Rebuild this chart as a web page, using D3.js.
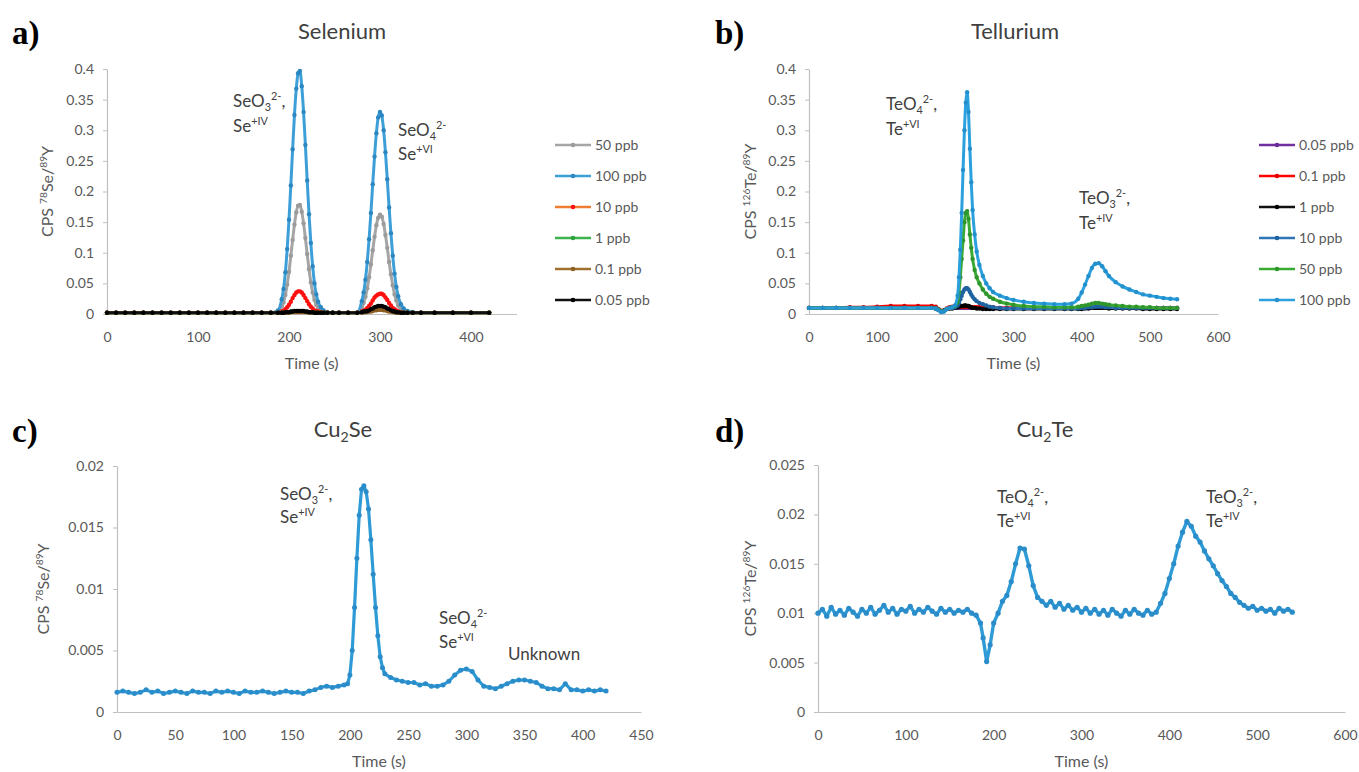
<!DOCTYPE html>
<html>
<head>
<meta charset="utf-8">
<script src="https://cdnjs.cloudflare.com/ajax/libs/d3/7.8.5/d3.min.js"></script>
<style>
  body { margin: 0; background: #fff; }
</style>
</head>
<body>
<svg id="chart" width="1359" height="772" font-family="Lato, 'Open Sans', sans-serif"></svg>
<script>
// ---- panel a: Selenium standards ----
const aTime = [0,10,20,30,40,50,60,70,80,90,100,110,120,130,140,150,160,170,180,188,
  192,194,196,198,200,202,204,206,208,210,212,214,216,218,220,222,224,226,228,230,
  232,235,238,242,248,255,265,275,280,282,284,286,288,290,292,294,296,298,300,302,
  304,306,308,310,312,314,316,318,320,323,326,330,336,345,360,380,400,420];
const seLabels = ['50 ppb', '100 ppb', '10 ppb', '1 ppb', '0.1 ppb', '0.05 ppb'];
const se50 = [0.002,0.002,0.002,0.002,0.002,0.002,0.002,0.002,0.002,0.002,
  0.002,0.002,0.002,0.002,0.002,0.002,0.002,0.002,0.002,0.004,
  0.012,0.019,0.031,0.048,0.069,0.095,0.121,0.146,0.166,0.177,
  0.178,0.167,0.148,0.124,0.098,0.073,0.052,0.035,0.023,0.015,
  0.010,0.006,0.004,0.003,0.002,0.002,0.002,0.002,0.011,0.018,
  0.028,0.042,0.060,0.081,0.104,0.126,0.145,0.157,0.162,0.159,
  0.147,0.129,0.108,0.085,0.065,0.047,0.032,0.022,0.014,0.008,
  0.005,0.003,0.002,0.002,0.002,0.002,0.002,0.002];
const se100 = [0.002,0.002,0.002,0.002,0.002,0.002,0.002,0.002,0.002,0.002,
  0.002,0.002,0.002,0.002,0.002,0.002,0.002,0.002,0.002,0.006,
  0.024,0.041,0.068,0.106,0.154,0.210,0.269,0.325,0.368,0.393,
  0.397,0.372,0.330,0.276,0.218,0.163,0.116,0.078,0.050,0.032,
  0.020,0.011,0.006,0.003,0.002,0.002,0.002,0.002,0.021,0.035,
  0.056,0.085,0.122,0.165,0.212,0.257,0.295,0.321,0.330,0.324,
  0.300,0.264,0.220,0.174,0.132,0.095,0.066,0.044,0.029,0.016,
  0.009,0.005,0.003,0.002,0.002,0.002,0.002,0.002];
const se10 = [0.002,0.002,0.002,0.002,0.002,0.002,0.002,0.002,0.002,0.002,
  0.002,0.002,0.002,0.002,0.002,0.002,0.002,0.002,0.002,0.002,
  0.004,0.005,0.008,0.011,0.015,0.020,0.026,0.031,0.035,0.037,
  0.037,0.035,0.031,0.026,0.021,0.016,0.012,0.009,0.006,0.005,
  0.004,0.003,0.002,0.002,0.002,0.002,0.002,0.002,0.004,0.005,
  0.007,0.010,0.013,0.017,0.022,0.027,0.030,0.032,0.033,0.033,
  0.031,0.027,0.023,0.018,0.014,0.010,0.008,0.006,0.004,0.003,
  0.002,0.002,0.002,0.002,0.002,0.002,0.002,0.002];
const se1 = [0.002,0.002,0.002,0.002,0.002,0.002,0.002,0.002,0.002,0.002,
  0.002,0.002,0.002,0.002,0.002,0.002,0.002,0.002,0.002,0.002,
  0.002,0.002,0.002,0.003,0.003,0.003,0.004,0.004,0.004,0.004,
  0.004,0.004,0.004,0.003,0.003,0.003,0.002,0.002,0.002,0.002,
  0.002,0.002,0.002,0.002,0.002,0.002,0.002,0.002,0.003,0.003,
  0.004,0.004,0.005,0.006,0.007,0.008,0.009,0.010,0.010,0.010,
  0.009,0.008,0.007,0.006,0.005,0.004,0.003,0.003,0.002,0.002,
  0.002,0.002,0.002,0.002,0.002,0.002,0.002,0.002];
const se01 = [0.002,0.002,0.002,0.002,0.002,0.002,0.002,0.002,0.002,0.002,
  0.002,0.002,0.002,0.002,0.002,0.002,0.002,0.002,0.002,0.002,
  0.002,0.002,0.002,0.002,0.002,0.003,0.003,0.003,0.003,0.003,
  0.003,0.003,0.003,0.003,0.003,0.002,0.002,0.002,0.002,0.002,
  0.002,0.002,0.002,0.002,0.002,0.002,0.002,0.002,0.002,0.003,
  0.003,0.003,0.004,0.004,0.005,0.006,0.006,0.007,0.007,0.007,
  0.006,0.006,0.005,0.004,0.004,0.003,0.003,0.002,0.002,0.002,
  0.002,0.002,0.002,0.002,0.002,0.002,0.002,0.002];
const se005 = [0.002,0.002,0.002,0.002,0.002,0.002,0.002,0.002,0.002,0.002,
  0.002,0.002,0.002,0.002,0.002,0.002,0.002,0.002,0.002,0.002,
  0.002,0.002,0.003,0.003,0.003,0.004,0.004,0.005,0.005,0.005,
  0.005,0.005,0.005,0.004,0.004,0.003,0.003,0.003,0.002,0.002,
  0.002,0.002,0.002,0.002,0.002,0.002,0.002,0.002,0.003,0.004,
  0.004,0.005,0.006,0.008,0.009,0.011,0.012,0.013,0.013,0.013,
  0.012,0.011,0.009,0.008,0.006,0.005,0.004,0.003,0.003,0.002,
  0.002,0.002,0.002,0.002,0.002,0.002,0.002,0.002];

// ---- panel b: Tellurium standards ----
const bTime = [0,20,40,60,80,100,120,140,160,180,
  186,190,194,198,202,206,210,214,218,220,
  222,224,226,228,230,232,234,236,238,240,
  243,246,250,255,260,265,270,280,290,300,
  315,330,345,360,375,385,395,400,405,410,
  415,420,425,430,435,440,450,460,470,480,
  490,500,510,520,530,540];
const teLabels = ['0.05 ppb', '0.1 ppb', '1 ppb', '10 ppb', '50 ppb', '100 ppb'];
const te005 = [0.010,0.010,0.010,0.010,0.010,0.010,0.010,0.010,0.010,0.010,
  0.010,0.007,0.004,0.005,0.008,0.010,0.010,0.010,0.010,0.010,
  0.010,0.010,0.010,0.010,0.010,0.010,0.010,0.010,0.010,0.010,
  0.010,0.010,0.010,0.010,0.010,0.010,0.010,0.010,0.010,0.010,
  0.010,0.010,0.010,0.010,0.010,0.010,0.010,0.010,0.010,0.010,
  0.010,0.010,0.010,0.010,0.010,0.010,0.010,0.010,0.010,0.010,
  0.010,0.010,0.010,0.010,0.010,0.010];
const te01 = [0.010,0.010,0.010,0.011,0.011,0.012,0.013,0.013,0.013,0.013,
  0.012,0.008,0.005,0.006,0.009,0.011,0.012,0.012,0.012,0.012,
  0.012,0.012,0.012,0.012,0.012,0.012,0.012,0.012,0.011,0.011,
  0.011,0.011,0.011,0.011,0.011,0.011,0.011,0.010,0.010,0.010,
  0.010,0.010,0.010,0.010,0.010,0.010,0.010,0.010,0.010,0.010,
  0.010,0.010,0.010,0.010,0.010,0.010,0.010,0.010,0.010,0.010,
  0.010,0.010,0.010,0.010,0.010,0.010];
const te1 = [0.010,0.010,0.010,0.010,0.010,0.010,0.010,0.010,0.010,0.010,
  0.009,0.007,0.005,0.006,0.008,0.009,0.009,0.010,0.011,0.012,
  0.013,0.013,0.013,0.014,0.014,0.013,0.013,0.012,0.011,0.010,
  0.010,0.009,0.009,0.008,0.008,0.008,0.008,0.008,0.008,0.008,
  0.008,0.008,0.008,0.008,0.008,0.008,0.008,0.008,0.009,0.009,
  0.010,0.010,0.010,0.010,0.010,0.009,0.009,0.009,0.009,0.009,
  0.008,0.008,0.008,0.008,0.008,0.008];
const te10 = [0.010,0.010,0.010,0.010,0.010,0.010,0.010,0.010,0.010,0.010,
  0.009,0.007,0.004,0.005,0.008,0.010,0.010,0.011,0.014,0.018,
  0.024,0.030,0.036,0.040,0.042,0.042,0.040,0.036,0.032,0.028,
  0.024,0.021,0.018,0.016,0.014,0.012,0.011,0.010,0.009,0.009,
  0.009,0.009,0.009,0.009,0.009,0.009,0.009,0.010,0.010,0.011,
  0.011,0.012,0.012,0.012,0.011,0.011,0.010,0.010,0.010,0.010,
  0.010,0.010,0.010,0.010,0.010,0.010];
const te50 = [0.010,0.010,0.010,0.010,0.010,0.010,0.010,0.010,0.010,0.010,
  0.009,0.007,0.004,0.005,0.008,0.010,0.011,0.013,0.020,0.035,
  0.060,0.090,0.120,0.150,0.165,0.168,0.155,0.130,0.108,0.090,
  0.072,0.060,0.050,0.040,0.033,0.028,0.025,0.020,0.017,0.015,
  0.013,0.012,0.012,0.011,0.011,0.011,0.012,0.013,0.014,0.015,
  0.017,0.018,0.018,0.017,0.016,0.015,0.014,0.013,0.012,0.012,
  0.011,0.011,0.010,0.010,0.010,0.010];
const te100 = [0.010,0.010,0.010,0.010,0.010,0.010,0.010,0.010,0.010,0.010,
  0.009,0.006,0.003,0.004,0.008,0.010,0.011,0.014,0.030,0.060,
  0.105,0.165,0.235,0.300,0.345,0.362,0.330,0.270,0.215,0.170,
  0.130,0.102,0.080,0.062,0.050,0.042,0.036,0.030,0.026,0.023,
  0.020,0.018,0.017,0.016,0.016,0.017,0.025,0.035,0.048,0.062,
  0.075,0.082,0.083,0.078,0.070,0.062,0.052,0.045,0.040,0.036,
  0.032,0.030,0.028,0.026,0.025,0.024];

// ---- panel c: Cu2Se ----
const cTime = [0,5,10,15,20,25,30,35,40,45,
  50,55,60,65,70,75,80,85,90,95,
  100,105,110,115,120,125,130,135,140,145,
  150,155,160,165,170,175,180,185,190,195,
  198,200,202,204,206,208,210,212,214,216,
  218,220,222,224,226,228,230,235,240,245,
  250,255,260,265,270,275,280,285,290,295,
  300,305,310,315,320,325,330,335,340,345,
  350,355,360,365,370,375,380,385,390,395,
  400,405,410,415,420];
const cuSe = [0.0016,0.0017,0.0016,0.0015,0.0016,0.0018,0.0016,0.0017,0.0015,0.0016,
  0.0017,0.0016,0.0015,0.0017,0.0016,0.0016,0.0015,0.0017,0.0016,0.0017,
  0.0016,0.0015,0.0017,0.0016,0.0016,0.0017,0.0016,0.0015,0.0016,0.0017,
  0.0016,0.0016,0.0015,0.0017,0.0018,0.0020,0.0021,0.0020,0.0021,0.0022,
  0.0023,0.0030,0.0050,0.0085,0.0125,0.0160,0.0181,0.0184,0.0179,0.0165,
  0.0140,0.0112,0.0085,0.0062,0.0045,0.0036,0.0031,0.0028,0.0026,0.0025,
  0.0024,0.0024,0.0022,0.0023,0.0021,0.0021,0.0022,0.0025,0.0030,0.0034,
  0.0035,0.0033,0.0026,0.0021,0.0020,0.0019,0.0021,0.0023,0.0025,0.0026,
  0.0026,0.0025,0.0024,0.0021,0.0019,0.0019,0.0018,0.0023,0.0018,0.0018,
  0.0017,0.0018,0.0017,0.0018,0.0017];

// ---- panel d: Cu2Te ----
const dTime = [0,5,10,15,20,25,30,35,40,45,
  50,55,60,65,70,75,80,85,90,95,
  100,105,110,115,120,125,130,135,140,145,
  150,155,160,165,170,175,180,185,188,192,
  196,200,205,210,215,220,225,230,235,240,
  245,250,255,260,265,270,275,280,285,290,
  295,300,305,310,315,320,325,330,335,340,
  345,350,355,360,365,370,375,380,385,390,
  395,400,405,410,415,420,425,430,435,440,
  445,450,455,460,465,470,475,480,485,490,
  495,500,505,510,515,520,525,530,535,540];
const cuTe = [0.0100,0.0104,0.0097,0.0106,0.0099,0.0103,0.0098,0.0105,0.0101,0.0097,
  0.0104,0.0100,0.0106,0.0099,0.0103,0.0108,0.0101,0.0105,0.0099,0.0104,
  0.0102,0.0107,0.0100,0.0104,0.0101,0.0106,0.0102,0.0099,0.0105,0.0101,
  0.0104,0.0100,0.0103,0.0101,0.0104,0.0100,0.0098,0.0090,0.0075,0.0051,
  0.0068,0.0090,0.0100,0.0112,0.0118,0.0132,0.0150,0.0166,0.0165,0.0148,
  0.0128,0.0116,0.0112,0.0108,0.0112,0.0106,0.0110,0.0104,0.0108,0.0103,
  0.0106,0.0101,0.0105,0.0100,0.0104,0.0099,0.0103,0.0098,0.0104,0.0100,
  0.0097,0.0103,0.0099,0.0104,0.0100,0.0098,0.0103,0.0099,0.0101,0.0110,
  0.0120,0.0135,0.0150,0.0168,0.0182,0.0193,0.0188,0.0178,0.0172,0.0163,
  0.0155,0.0148,0.0140,0.0133,0.0127,0.0120,0.0116,0.0111,0.0108,0.0105,
  0.0107,0.0103,0.0105,0.0102,0.0104,0.0100,0.0105,0.0102,0.0104,0.0101];

// tick labels
const xTicks450 = [0, 100, 200, 300, 400];
const xTicks600 = [0, 100, 200, 300, 400, 500, 600];
const xTicksC = [0, 50, 100, 150, 200, 250, 300, 350, 400, 450];
const yTicksStd = [0, 0.05, 0.1, 0.15, 0.2, 0.25, 0.3, 0.35, 0.4];
const yTicksC = [0, 0.005, 0.01, 0.015, 0.02];
const yTicksD = [0, 0.005, 0.01, 0.015, 0.02, 0.025];

const svg = d3.select('#chart');
svg.append('rect').attr('width', 1359).attr('height', 772).attr('fill', '#fff');

// text with sub/superscripts: parts = [[str, 'sub'|'sup'|null], ...]
function rich(sel, x, y, parts, size, opts) {
  opts = opts || {};
  const t = sel.append('text').attr('x', x).attr('y', y)
    .attr('font-size', size).attr('fill', opts.fill || '#404040')
    .attr('text-anchor', opts.anchor || 'start');
  if (opts.rotate) t.attr('transform', `rotate(-90,${x},${y})`);
  let cur = 0;
  parts.forEach(([str, kind]) => {
    const off = kind === 'sup' ? -size * 0.4 : kind === 'sub' ? size * 0.22 : 0;
    t.append('tspan').attr('dy', off - cur)
      .attr('font-size', kind ? size * 0.64 : size).text(str);
    cur = off;
  });
  return t;
}

function drawPanel(p) {
  const g = svg.append('g');
  const x = d3.scaleLinear().domain([0, p.xMax]).range([p.left, p.right]);
  const y = d3.scaleLinear().domain([0, p.yMax]).range([p.bottom, p.top]);

  const styleAxis = ax => {
    ax.attr('font-family', null);
    ax.select('.domain').attr('stroke', '#bfbfbf').attr('stroke-width', 1.2);
    ax.selectAll('.tick line').attr('stroke', '#bfbfbf');
    ax.selectAll('text').attr('fill', '#595959').attr('font-size', 14);
  };
  g.append('g').attr('transform', `translate(0,${p.bottom})`)
    .call(d3.axisBottom(x).tickValues(p.xTicks).tickSize(0).tickSizeOuter(0)
      .tickPadding(18).tickFormat(d => String(d)))
    .call(styleAxis);
  g.append('g').attr('transform', `translate(${p.left},0)`)
    .call(d3.axisLeft(y).tickValues(p.yTicks).tickSize(4).tickSizeOuter(0)
      .tickPadding(9).tickFormat(d => String(d)))
    .call(styleAxis);

  const line = d3.line()
    .x((d, i) => x(p.time[i]))
    .y(d => y(d))
    .curve(p.curve);

  p.series.forEach(s => {
    g.append('path').datum(s.values)
      .attr('d', line).attr('fill', 'none')
      .attr('stroke', s.color).attr('stroke-width', p.lw)
      .attr('stroke-linejoin', 'round');
    g.append('g').selectAll('circle').data(s.values).join('circle')
      .attr('cx', (d, i) => x(p.time[i]))
      .attr('cy', d => y(d))
      .attr('r', p.mr)
      .attr('fill', s.mark);
  });

  // axis titles
  g.append('text').attr('x', (p.left + p.right) / 2).attr('y', p.bottom + 55)
    .attr('text-anchor', 'middle').attr('font-size', 16).attr('fill', '#595959')
    .text('Time (s)');
  rich(g, p.yTitleX, (p.top + p.bottom) / 2, p.yTitle, 16,
    { anchor: 'middle', rotate: true, fill: '#595959' });

  // chart title and panel letter
  rich(g, p.titleX, p.titleY, p.title, 22, { anchor: 'middle' });
  g.append('text').attr('x', p.letterX).attr('y', p.titleY + 5)
    .attr('font-family', '"Liberation Serif", "DejaVu Serif", serif')
    .attr('font-weight', 'bold').attr('font-size', 33).attr('fill', '#000')
    .text(p.letter);

  // peak annotations
  p.notes.forEach(n => rich(g, n.x, n.y, n.parts, 17));

  // legend
  if (p.legend) {
    p.series.forEach((s, i) => {
      const ly = p.legend.y[i];
      g.append('line').attr('x1', p.legend.x).attr('x2', p.legend.x + 36)
        .attr('y1', ly).attr('y2', ly).attr('stroke', s.color).attr('stroke-width', 2.5);
      g.append('circle').attr('cx', p.legend.x + 18).attr('cy', ly).attr('r', 2.3).attr('fill', s.mark);
      g.append('text').attr('x', p.legend.x + 40).attr('y', ly + 5)
        .attr('font-size', 14).attr('fill', '#595959').text(s.name);
    });
  }
}

const legendY = [145, 176, 207, 238, 269, 300];
const seColors = [['#a5a5a5', '#9b9b9b'], ['#3d9fd8', '#2c87c0'], ['#ed7d31', '#ff1010'],
  ['#3cb44b', '#2ea23d'], ['#a0702e', '#8c5f22'], ['#111111', '#000000']];
const teColors = [['#7030a0', '#6a2c98'], ['#ff0000', '#e00000'], ['#111111', '#000000'],
  ['#2e75b6', '#1f62a0'], ['#3aaa35', '#2f962b'], ['#2ba0de', '#2390cc']];
const seValues = [se50, se100, se10, se1, se01, se005];
const teValues = [te005, te01, te1, te10, te50, te100];

const yTitleSe = [['CPS '], ['78', 'sup'], ['Se/'], ['89', 'sup'], ['Y']];
const yTitleTe = [['CPS '], ['126', 'sup'], ['Te/'], ['89', 'sup'], ['Y']];

drawPanel({
  letter: 'a)', letterX: 12, title: [['Selenium']], titleX: 342, titleY: 39,
  left: 107, right: 516.5, top: 69, bottom: 314, xMax: 450, yMax: 0.4,
  xTicks: xTicks450, yTicks: yTicksStd, time: aTime, lw: 3, mr: 2.2,
  curve: d3.curveMonotoneX, yTitle: yTitleSe, yTitleX: 53,
  series: seValues.map((v, i) => ({ name: seLabels[i], values: v, color: seColors[i][0], mark: seColors[i][1] })),
  legend: { x: 555, y: legendY },
  notes: [
    { x: 233, y: 107, parts: [['SeO'], ['3', 'sub'], ['2-', 'sup'], [',']] },
    { x: 233, y: 132, parts: [['Se'], ['+IV', 'sup']] },
    { x: 398, y: 136, parts: [['SeO'], ['4', 'sub'], ['2-', 'sup']] },
    { x: 398, y: 160, parts: [['Se'], ['+VI', 'sup']] }
  ]
});

drawPanel({
  letter: 'b)', letterX: 715, title: [['Tellurium']], titleX: 1015, titleY: 39,
  left: 809, right: 1218, top: 69, bottom: 314, xMax: 600, yMax: 0.4,
  xTicks: xTicks600, yTicks: yTicksStd, time: bTime, lw: 3, mr: 2.2,
  curve: d3.curveMonotoneX, yTitle: yTitleTe, yTitleX: 756,
  series: teValues.map((v, i) => ({ name: teLabels[i], values: v, color: teColors[i][0], mark: teColors[i][1] })),
  legend: { x: 1259, y: legendY },
  notes: [
    { x: 886, y: 110, parts: [['TeO'], ['4', 'sub'], ['2-', 'sup'], [',']] },
    { x: 886, y: 135, parts: [['Te'], ['+VI', 'sup']] },
    { x: 1079, y: 204, parts: [['TeO'], ['3', 'sub'], ['2-', 'sup'], [',']] },
    { x: 1079, y: 229, parts: [['Te'], ['+IV', 'sup']] }
  ]
});

drawPanel({
  letter: 'c)', letterX: 12, title: [['Cu'], ['2', 'sub'], ['Se']], titleX: 343, titleY: 437,
  left: 117, right: 641, top: 466, bottom: 712, xMax: 450, yMax: 0.02,
  xTicks: xTicksC, yTicks: yTicksC, time: cTime, lw: 3.2, mr: 2.5,
  curve: d3.curveLinear, yTitle: yTitleSe, yTitleX: 49,
  series: [{ name: 'Cu2Se', values: cuSe, color: '#2e9ad6', mark: '#2a8dca' }],
  notes: [
    { x: 280, y: 500, parts: [['SeO'], ['3', 'sub'], ['2-', 'sup'], [',']] },
    { x: 280, y: 523, parts: [['Se'], ['+IV', 'sup']] },
    { x: 439, y: 624, parts: [['SeO'], ['4', 'sub'], ['2-', 'sup']] },
    { x: 439, y: 648, parts: [['Se'], ['+VI', 'sup']] },
    { x: 508, y: 660, parts: [['Unknown']] }
  ]
});

drawPanel({
  letter: 'd)', letterX: 715, title: [['Cu'], ['2', 'sub'], ['Te']], titleX: 1045, titleY: 437,
  left: 818, right: 1345, top: 465, bottom: 712, xMax: 600, yMax: 0.025,
  xTicks: xTicks600, yTicks: yTicksD, time: dTime, lw: 3.4, mr: 2.6,
  curve: d3.curveLinear, yTitle: yTitleTe, yTitleX: 756,
  series: [{ name: 'Cu2Te', values: cuTe, color: '#2e9ad6', mark: '#2a8dca' }],
  notes: [
    { x: 997, y: 503, parts: [['TeO'], ['4', 'sub'], ['2-', 'sup'], [',']] },
    { x: 997, y: 527, parts: [['Te'], ['+VI', 'sup']] },
    { x: 1206, y: 503, parts: [['TeO'], ['3', 'sub'], ['2-', 'sup'], [',']] },
    { x: 1206, y: 527, parts: [['Te'], ['+IV', 'sup']] }
  ]
});
</script>
</body>
</html>
